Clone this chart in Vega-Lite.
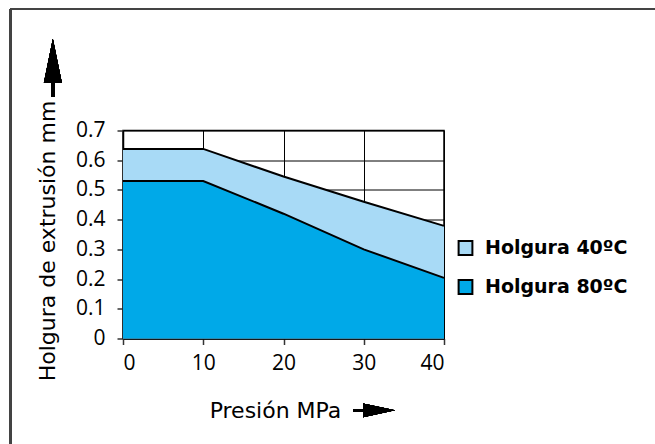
{
  "$schema": "https://vega.github.io/schema/vega-lite/v6.json",
  "width": 321,
  "height": 208,
  "autosize": "none",
  "padding": {"left": 123, "top": 130.5, "right": 211, "bottom": 105},
  "background": "white",
  "config": {
    "font": "DejaVu Sans",
    "view": {"stroke": "black", "strokeWidth": 1.5},
    "axis": {
      "grid": true,
      "gridColor": "black",
      "gridWidth": 1,
      "gridOpacity": 1,
      "domainColor": "black",
      "domainWidth": 1.5,
      "tickColor": "#333333",
      "tickWidth": 1.5,
      "tickSize": 6,
      "labelColor": "black",
      "labelFont": "Open Sans",
      "labelFontSize": 21,
      "labelOverlap": false,
      "titleColor": "black",
      "titleFont": "DejaVu Sans",
      "titleFontSize": 22,
      "titleFontWeight": "normal"
    },
    "legend": {
      "labelFont": "DejaVu Sans",
      "labelFontSize": 19,
      "labelFontWeight": "bold",
      "labelColor": "black",
      "symbolType": "square",
      "symbolSize": 190,
      "symbolStrokeColor": "black",
      "symbolStrokeWidth": 2,
      "symbolOpacity": 1,
      "rowPadding": 16,
      "labelOffset": 10,
      "labelLimit": 300
    }
  },
  "data": {
    "values": [
      {"presion": 0, "holgura": 0.638, "serie": "Holgura 40ºC"},
      {"presion": 10, "holgura": 0.638, "serie": "Holgura 40ºC"},
      {"presion": 20, "holgura": 0.545, "serie": "Holgura 40ºC"},
      {"presion": 30, "holgura": 0.46, "serie": "Holgura 40ºC"},
      {"presion": 40, "holgura": 0.379, "serie": "Holgura 40ºC"},
      {"presion": 0, "holgura": 0.53, "serie": "Holgura 80ºC"},
      {"presion": 10, "holgura": 0.53, "serie": "Holgura 80ºC"},
      {"presion": 20, "holgura": 0.42, "serie": "Holgura 80ºC"},
      {"presion": 30, "holgura": 0.30, "serie": "Holgura 80ºC"},
      {"presion": 40, "holgura": 0.204, "serie": "Holgura 80ºC"}
    ]
  },
  "encoding": {
    "x": {
      "field": "presion", "type": "quantitative",
      "scale": {"domain": [0, 40], "nice": false},
      "axis": {"values": [0, 10, 20, 30, 40], "labelOverlap": false, "labelPadding": 8, "title": "Presión MPa", "titleX": 152, "titleY": 79, "titleBaseline": "alphabetic"}
    },
    "y": {
      "field": "holgura", "type": "quantitative", "stack": null,
      "scale": {"domain": [0, 0.7], "nice": false},
      "axis": {"values": [0, 0.1, 0.2, 0.3, 0.4, 0.5, 0.6, 0.7], "labelOverlap": false, "labelExpr": "datum.value == 0 ? '0' : format(datum.value, '.1f')", "labelPadding": 12, "title": "Holgura de extrusión mm", "titleX": -64, "titleY": 110}
    }
  },
  "layer": [
    {
      "transform": [{"filter": "datum.serie == 'Holgura 40ºC'"}],
      "mark": {"type": "area", "opacity": 1},
      "encoding": {
        "color": {
          "field": "serie", "type": "nominal",
          "scale": {"domain": ["Holgura 40ºC", "Holgura 80ºC"], "range": ["#a8daf6", "#00a9e8"]},
          "legend": {"title": null, "orient": "none", "legendX": 333, "legendY": 108}
        }
      }
    },
    {
      "transform": [{"filter": "datum.serie == 'Holgura 80ºC'"}],
      "mark": {"type": "area", "opacity": 1},
      "encoding": {
        "color": {"field": "serie", "type": "nominal"}
      }
    },
    {
      "mark": {"type": "line", "color": "black", "strokeWidth": 2},
      "encoding": {
        "detail": {"field": "serie"}
      }
    },
    {
      "mark": {"type": "point", "filled": true, "color": "black", "opacity": 1, "size": 3364, "clip": false,
        "shape": "M0,-1L0.31,0.517L0.06,0.517L0.06,1L-0.06,1L-0.06,0.517L-0.31,0.517Z"},
      "encoding": {"x": {"datum": -8.74}, "y": {"datum": 0.911}}
    },
    {
      "mark": {"type": "point", "filled": true, "color": "black", "opacity": 1, "size": 1764, "clip": false,
        "shape": "M1,0L-0.524,0.33L-0.524,0.07L-1,0.07L-1,-0.07L-0.524,-0.07L-0.524,-0.33Z"},
      "encoding": {"x": {"datum": 31.29}, "y": {"datum": -0.2418}}
    },
    {
      "mark": {"type": "rule", "color": "#444444", "strokeWidth": 2, "clip": false},
      "encoding": {"x": {"datum": -14.03}, "y": {"datum": 1.1087}, "y2": {"datum": -0.4}}
    },
    {
      "mark": {"type": "rule", "color": "#444444", "strokeWidth": 2, "clip": false},
      "encoding": {"x": {"datum": -14.03}, "x2": {"datum": 67.5}, "y": {"datum": 1.1087}}
    }
  ]
}
